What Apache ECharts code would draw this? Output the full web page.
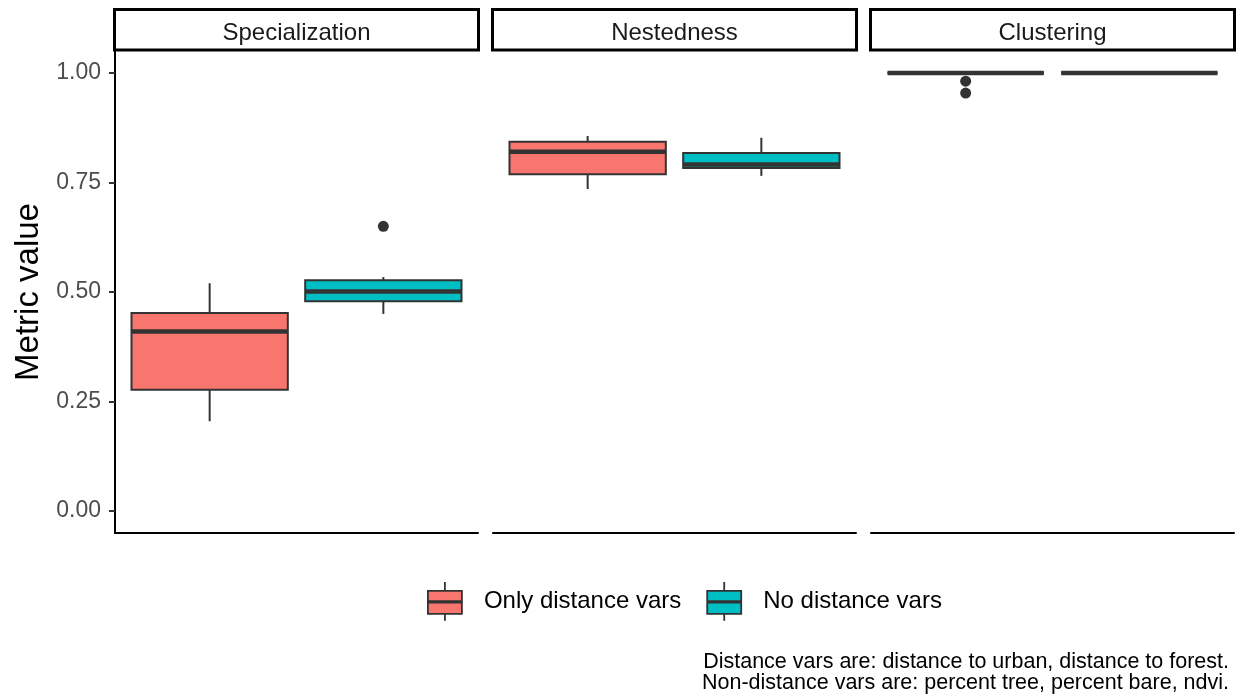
<!DOCTYPE html>
<html>
<head>
<meta charset="utf-8">
<script src="https://cdn.jsdelivr.net/npm/echarts/dist/echarts.min.js"></script>
<style>
  html, body { margin: 0; padding: 0; background: #fff; }
  #chart { width: 1238px; height: 695px; }
</style>
</head>
<body>
<div id="chart"></div>
<script>
// ---- data ----
const metrics = ['Specialization', 'Nestedness', 'Clustering'];
const groups = ['Only distance vars', 'No distance vars'];
// [lower whisker, Q1, median, Q3, upper whisker] per metric
const onlyDistance = [
  [0.205, 0.277, 0.410, 0.452, 0.520],
  [0.735, 0.769, 0.820, 0.843, 0.856],
  [1.000, 1.000, 1.000, 1.000, 1.000]
];
const noDistance = [
  [0.450, 0.479, 0.501, 0.527, 0.534],
  [0.765, 0.783, 0.791, 0.817, 0.852],
  [1.000, 1.000, 1.000, 1.000, 1.000]
];
const onlyDistanceOutliers = [[], [], [0.981, 0.954]];
const noDistanceOutliers = [[0.650], [], []];
const yTicks = [0, 0.25, 0.5, 0.75, 1.0];
const groupColors = ['#F8766D', '#00BFC4'];

// ---- layout ----
const panelLefts = [115, 493, 871];
const panelWidth = 363;
const gridTop = 51, gridBottom = 162;

const stats = [onlyDistance, noDistance];
const outs = [onlyDistanceOutliers, noDistanceOutliers];

function renderBox(params, api) {
  const x = api.value(0);
  const lo = api.value(1), q1 = api.value(2), med = api.value(3), q3 = api.value(4), hi = api.value(5);
  const bw = api.size([0.9, 0])[0];
  const pHi = api.coord([x, hi]), pQ3 = api.coord([x, q3]), pMed = api.coord([x, med]);
  const pQ1 = api.coord([x, q1]), pLo = api.coord([x, lo]);
  const cx = pMed[0];
  const color = api.visual('color');
  return {
    type: 'group',
    children: [
      { type: 'line', shape: { x1: cx, y1: pHi[1], x2: cx, y2: pQ3[1] }, style: { stroke: '#333333', lineWidth: 2 } },
      { type: 'line', shape: { x1: cx, y1: pQ1[1], x2: cx, y2: pLo[1] }, style: { stroke: '#333333', lineWidth: 2 } },
      { type: 'rect', shape: { x: cx - bw / 2, y: pQ3[1], width: bw, height: pQ1[1] - pQ3[1] },
        style: { fill: color, stroke: '#333333', lineWidth: 2 } },
      { type: 'line', shape: { x1: cx - bw / 2, y1: pMed[1], x2: cx + bw / 2, y2: pMed[1] },
        style: { stroke: '#333333', lineWidth: 4.5 } }
    ]
  };
}

const grids = [], xAxes = [], yAxes = [], series = [], graphics = [];
metrics.forEach((m, p) => {
  grids.push({ left: panelLefts[p], width: panelWidth, top: gridTop, bottom: gridBottom, containLabel: false });
  xAxes.push({
    gridIndex: p, type: 'value', min: 0.455, max: 2.545,
    axisLine: { show: true, onZero: false, lineStyle: { color: '#000', width: 2 } },
    axisTick: { show: false }, axisLabel: { show: false }, splitLine: { show: false }
  });
  yAxes.push({
    gridIndex: p, type: 'value', min: -0.05, max: 1.05, show: p === 0,
    name: p === 0 ? 'Metric value' : '',
    nameLocation: 'middle', nameGap: 70,
    nameTextStyle: { fontSize: 33, color: '#000', fontFamily: 'Liberation Sans, Arial, sans-serif' },
    axisLine: { show: true, onZero: false, lineStyle: { color: '#000', width: 2 } },
    axisTick: { show: true, length: 6, customValues: yTicks, lineStyle: { color: '#333', width: 2 } },
    axisLabel: { show: true, customValues: yTicks, margin: 14, fontSize: 23, color: '#4d4d4d',
      fontFamily: 'Liberation Sans, Arial, sans-serif', formatter: v => v.toFixed(2),
      padding: [7, 0, 0, 0] },
    splitLine: { show: false }
  });
  groups.forEach((g, gi) => {
    series.push({
      type: 'custom', name: g, xAxisIndex: p, yAxisIndex: p,
      itemStyle: { color: groupColors[gi] },
      renderItem: renderBox,
      encode: { x: 0, y: [1, 2, 3, 4, 5] },
      data: [[gi + 1].concat(stats[gi][p])],
      silent: true
    });
    if (outs[gi][p].length) {
      series.push({
        type: 'scatter', name: 'outliers', xAxisIndex: p, yAxisIndex: p,
        symbolSize: 11, itemStyle: { color: '#333333', opacity: 1 },
        data: outs[gi][p].map(v => [gi + 1, v]), silent: true, z: 5
      });
    }
  });
  graphics.push({
    type: 'rect', shape: { x: panelLefts[p] - 0.5, y: 9.5, width: panelWidth + 1, height: 40.5 },
    style: { fill: '#fff', stroke: '#000', lineWidth: 3 }
  });
  graphics.push({
    type: 'text', x: panelLefts[p] + panelWidth / 2, y: 33,
    style: { text: m, fill: '#1a1a1a', font: '24px "Liberation Sans", Arial, sans-serif',
      textAlign: 'center', textVerticalAlign: 'middle' }
  });
});

graphics.push({
  type: 'text', x: 1229, y: 651,
  style: {
    text: 'Distance vars are: distance to urban, distance to forest.\nNon-distance vars are: percent tree, percent bare, ndvi.',
    fill: '#000', font: '21.5px "Liberation Sans", Arial, sans-serif',
    textAlign: 'right', textVerticalAlign: 'top', lineHeight: 21.5
  }
});

const legendIcon = 'path://M17 0L17.01 0L17.01 8L17 8Z M0 8L34 8L34 18.2L0 18.2Z M0 19.8L34 19.8L34 31L0 31Z M17 31L17.01 31L17.01 37L17 37Z';

const chart = echarts.init(document.getElementById('chart'), null, { renderer: 'canvas' });
chart.setOption({
  animation: false,
  backgroundColor: '#fff',
  grid: grids, xAxis: xAxes, yAxis: yAxes, series: series,
  legend: {
    left: 427, top: 582, orient: 'horizontal', padding: 0,
    itemWidth: 34, itemHeight: 37, itemGap: 25,
    data: groups.map(g => ({ name: g, icon: legendIcon })),
    itemStyle: { borderColor: '#333333', borderWidth: 1.8 },
    textStyle: { fontSize: 24, color: '#000', fontFamily: 'Liberation Sans, Arial, sans-serif', padding: [2, 0, 0, 17] },
    selectedMode: false
  },
  graphic: graphics
});
</script>
</body>
</html>
